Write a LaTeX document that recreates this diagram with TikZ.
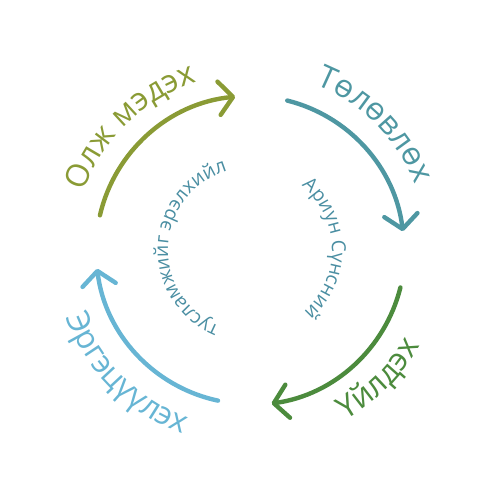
\documentclass[tikz,border=0pt]{standalone}
\usepackage{fontspec}
\setmainfont{Open Sans}
\usetikzlibrary{arrows.meta,decorations.text}
\definecolor{cOlive}{HTML}{8A9B35}
\definecolor{cTeal}{HTML}{4E97A2}
\definecolor{cGreen}{HTML}{4C8B3D}
\definecolor{cBlue}{HTML}{67B5D4}
\definecolor{cInner}{HTML}{4A8EA2}
\newcommand\outerfnt{\fontsize{18}{20}\selectfont}
\newcommand\innerfnt{\fontsize{11}{13}\selectfont}
\begin{document}
\begin{tikzpicture}[
  cyc/.style={line width=2.5pt, line cap=round, -{Straight Barb[length=8pt,width=19pt,round]}},
  lbl/.style={decorate, decoration={text along path, text align=center, text={#1}}},
]
\useasboundingbox (-5,-5) rectangle (5,5);
% arcs
\draw[cyc, cOlive] (167:3.08) arc[start angle=167, end angle=95.5, radius=3.08];
\draw[cyc, cTeal]  (76:3.08) arc[start angle=76, end angle=7, radius=3.08];
\draw[cyc, cGreen] (-14:3.1) arc[start angle=-14, end angle=-82, radius=3.1];
\draw[cyc, cBlue]  (-102:3.08) arc[start angle=-102, end angle=-173, radius=3.08];
% outer labels
\path[lbl={|\outerfnt\color{cOlive}|Олж мэдэх}] (175:3.52) arc[start angle=175, end angle=93, radius=3.52];
\path[lbl={|\outerfnt\color{cTeal}|Төлөвлөх}] (86:3.56) arc[start angle=86, end angle=4, radius=3.56];
\path[lbl={|\outerfnt\color{cGreen}|Үйлдэх}] (-86:3.9) arc[start angle=-86, end angle=-4, radius=3.9];
\path[lbl={|\outerfnt\color{cBlue}|Эргэцүүлэх}] (184:3.92) arc[start angle=184, end angle=266, radius=3.92];
% inner text
\path[lbl={|\innerfnt\color{cInner}|Ариун Сүнсний}] (62:1.64) arc[start angle=62, end angle=-60, radius=1.64];
\path[lbl={|\innerfnt\color{cInner}|тусламжийг эрэлхийл}] (260:1.64) arc[start angle=260, end angle=94, radius=1.64];
\end{tikzpicture}
\end{document}
